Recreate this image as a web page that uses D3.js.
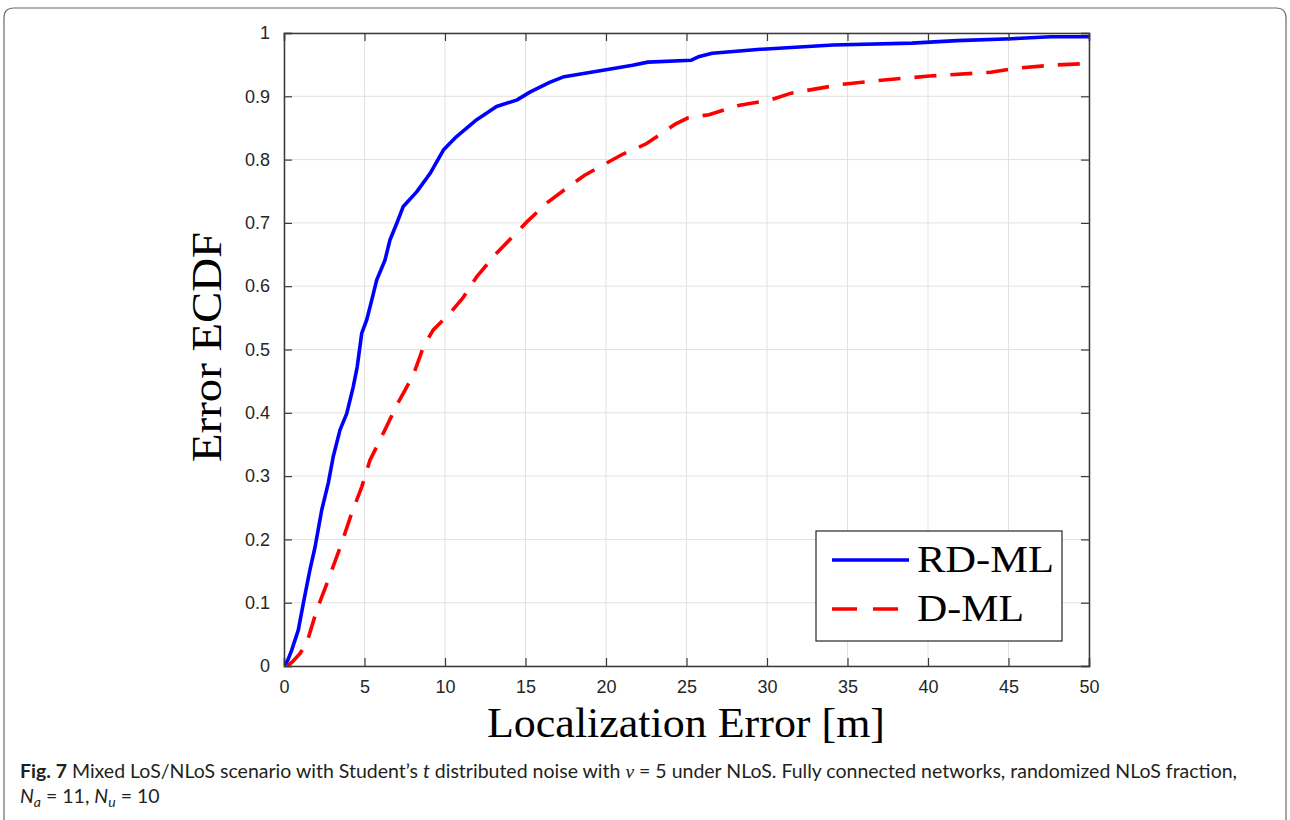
<!DOCTYPE html>
<html>
<head>
<meta charset="utf-8">
<script src="https://cdn.jsdelivr.net/npm/d3@7"></script>
<style>
  html, body { margin: 0; padding: 0; background: #fff; }
  svg { display: block; }
</style>
</head>
<body>
<svg id="chart" width="1290" height="820"></svg>
<script>
// Empirical CDF of the localization error for the two estimators
const rdmlError = [0, 0.25, 0.48, 0.89, 1.2, 1.61, 1.93, 2.34, 2.75, 3.06, 3.48, 3.9, 4.3, 4.55, 4.83, 5.14, 5.45, 5.76, 6.27, 6.58, 7.0, 7.41, 8.24, 9.07, 9.9, 10.7, 11.97, 13.2, 14.45, 15.3, 16.5, 17.4, 20.0, 21.65, 22.6, 25.3, 25.8, 26.6, 29.4, 34.1, 39.0, 41.8, 45.2, 47.6, 50];
const rdmlCdf   = [0, 0.01, 0.025, 0.057, 0.099, 0.152, 0.188, 0.246, 0.289, 0.331, 0.373, 0.399, 0.441, 0.473, 0.526, 0.547, 0.578, 0.61, 0.641, 0.673, 0.699, 0.726, 0.749, 0.778, 0.815, 0.836, 0.863, 0.884, 0.894, 0.907, 0.922, 0.931, 0.942, 0.949, 0.954, 0.957, 0.963, 0.968, 0.974, 0.981, 0.984, 0.988, 0.991, 0.994, 0.994];

const dmlError = [0.2, 0.5, 1.0, 1.41, 2.03, 2.75, 3.58, 4.2, 4.83, 5.34, 6.27, 7.0, 7.52, 8.03, 8.45, 8.65, 9.27, 10.3, 11.1, 11.97, 13.2, 14.0, 15.1, 16.3, 17.4, 18.65, 20, 21, 22.5, 24.3, 25.1, 26.4, 28.3, 30.2, 31.5, 34.7, 36.9, 40.1, 43.9, 45.4, 47.6, 50];
const dmlCdf   = [0, 0.006, 0.02, 0.036, 0.088, 0.136, 0.194, 0.241, 0.283, 0.325, 0.373, 0.412, 0.436, 0.46, 0.489, 0.504, 0.531, 0.557, 0.581, 0.615, 0.652, 0.673, 0.702, 0.731, 0.752, 0.775, 0.794, 0.808, 0.825, 0.856, 0.866, 0.871, 0.886, 0.894, 0.905, 0.919, 0.925, 0.932, 0.938, 0.944, 0.949, 0.952];

const seriesNames = ["RD-ML", "D-ML"];
const xTicks = [0, 5, 10, 15, 20, 25, 30, 35, 40, 45, 50];
const yTicks = [0, 0.1, 0.2, 0.3, 0.4, 0.5, 0.6, 0.7, 0.8, 0.9, 1];

const svg = d3.select("#chart");
const W = 1290, H = 820;
const plot = { left: 284, right: 1089, top: 33, bottom: 666 };

// Figure frame (rounded top corners, open at the bottom)
svg.append("path")
  .attr("d", `M4,${H} L4,18 Q4,8 14,8 L1276,8 Q1286,8 1286,18 L1286,${H}`)
  .attr("fill", "none").attr("stroke", "#6a6a6a").attr("stroke-width", 1.2);

const x = d3.scaleLinear().domain([0, 50]).range([plot.left, plot.right]);
const y = d3.scaleLinear().domain([0, 1]).range([plot.bottom, plot.top]);

// Grid
const grid = svg.append("g").attr("stroke", "#e2e2e2").attr("stroke-width", 1);
xTicks.forEach(t => grid.append("line")
  .attr("x1", x(t)).attr("x2", x(t)).attr("y1", plot.top).attr("y2", plot.bottom));
yTicks.forEach(t => grid.append("line")
  .attr("x1", plot.left).attr("x2", plot.right).attr("y1", y(t)).attr("y2", y(t)));

// Curves
const line = d3.line().x(d => x(d[0])).y(d => y(d[1])).curve(d3.curveLinear);
const rdml = rdmlError.map((e, i) => [e, rdmlCdf[i]]);
const dml = dmlError.map((e, i) => [e, dmlCdf[i]]);

svg.append("clipPath").attr("id", "plotclip").append("rect")
  .attr("x", plot.left).attr("y", plot.top - 3)
  .attr("width", plot.right - plot.left).attr("height", plot.bottom - plot.top + 3);

const curves = svg.append("g").attr("clip-path", "url(#plotclip)");
curves.append("path").datum(dml).attr("d", line)
  .attr("fill", "none").attr("stroke", "#ff0000").attr("stroke-width", 3.6)
  .attr("stroke-dasharray", "22,14");
curves.append("path").datum(rdml).attr("d", line)
  .attr("fill", "none").attr("stroke", "#0000ff").attr("stroke-width", 3.6)
  .attr("stroke-linejoin", "round");

// Axes (ticks inward on all four sides)
const axisColor = "#3a3a3a";
const tickFont = "'Liberation Sans', Arial, sans-serif";
const xAxisB = d3.axisBottom(x).tickValues(xTicks).tickSize(-8).tickPadding(14).tickFormat(d3.format("d"));
const xAxisT = d3.axisTop(x).tickValues(xTicks).tickSize(-8).tickFormat("");
const yAxisL = d3.axisLeft(y).tickValues(yTicks).tickSize(-8).tickPadding(14).tickFormat(d => d === 0 || d === 1 ? d3.format("d")(d) : d3.format(".1f")(d));
const yAxisR = d3.axisRight(y).tickValues(yTicks).tickSize(-8).tickFormat("");

function styleAxis(g) {
  g.select(".domain").attr("stroke", axisColor).attr("stroke-width", 1.5);
  g.selectAll(".tick line").attr("stroke", axisColor).attr("stroke-width", 1.2);
  g.selectAll(".tick text").attr("fill", "#262626")
    .style("font-family", tickFont).style("font-size", "18px");
}
svg.append("g").attr("transform", `translate(0,${plot.bottom})`).call(xAxisB).call(styleAxis);
svg.append("g").attr("transform", `translate(0,${plot.top})`).call(xAxisT).call(styleAxis);
svg.append("g").attr("transform", `translate(${plot.left},0)`).call(yAxisL).call(styleAxis);
svg.append("g").attr("transform", `translate(${plot.right},0)`).call(yAxisR).call(styleAxis);

// Axis titles
const serif = "'Liberation Serif', 'Times New Roman', serif";
svg.append("text")
  .attr("x", 487).attr("y", 737)
  .attr("textLength", 398).attr("lengthAdjust", "spacingAndGlyphs")
  .style("font-family", serif).style("font-size", "43px").attr("fill", "#000")
  .text("Localization Error [m]");
svg.append("text")
  .attr("transform", `translate(221,462) rotate(-90)`)
  .attr("textLength", 230).attr("lengthAdjust", "spacingAndGlyphs")
  .style("font-family", serif).style("font-size", "43px").attr("fill", "#000")
  .text("Error ECDF");

// Legend
const lg = svg.append("g");
lg.append("rect").attr("x", 816).attr("y", 531).attr("width", 246).attr("height", 110)
  .attr("fill", "#fff").attr("stroke", "#262626").attr("stroke-width", 1.2);
const legendRows = [
  { name: seriesNames[0], color: "#0000ff", dash: null, y: 560, x2: 909, len: 137 },
  { name: seriesNames[1], color: "#ff0000", dash: "25,16", y: 609, x2: 898, len: 107 }
];
legendRows.forEach(r => {
  lg.append("line").attr("x1", 832).attr("x2", r.x2).attr("y1", r.y).attr("y2", r.y)
    .attr("stroke", r.color).attr("stroke-width", 3.6)
    .attr("stroke-dasharray", r.dash);
  lg.append("text").attr("x", 917).attr("y", r.y + 12)
    .attr("textLength", r.len).attr("lengthAdjust", "spacingAndGlyphs")
    .style("font-family", serif).style("font-size", "38px").attr("fill", "#000")
    .text(r.name);
});

// Caption
const capFont = "Lato, 'Open Sans', sans-serif";
const cap1 = svg.append("text").attr("x", 20).attr("y", 778)
  .style("font-family", capFont).style("font-size", "19.5px").attr("fill", "#231f20");
cap1.append("tspan").style("font-weight", "bold").text("Fig. 7");
cap1.append("tspan").text(" Mixed LoS/NLoS scenario with Student\u2019s ");
cap1.append("tspan").style("font-style", "italic").text("t");
cap1.append("tspan").text(" distributed noise with ");
cap1.append("tspan").style("font-family", serif).style("font-style", "italic").text("\u03bd");
cap1.append("tspan").text(" = 5 under NLoS. Fully connected networks, randomized NLoS fraction,");

const cap2 = svg.append("text").attr("x", 20).attr("y", 803)
  .style("font-family", capFont).style("font-size", "19.5px").attr("fill", "#231f20");
cap2.append("tspan").style("font-style", "italic").text("N");
cap2.append("tspan").style("font-style", "italic").style("font-size", "14px").attr("dy", 4).text("a");
cap2.append("tspan").attr("dy", -4).text(" = 11, ");
cap2.append("tspan").style("font-style", "italic").text("N");
cap2.append("tspan").style("font-style", "italic").style("font-size", "14px").attr("dy", 4).text("u");
cap2.append("tspan").attr("dy", -4).text(" = 10");
</script>
</body>
</html>
